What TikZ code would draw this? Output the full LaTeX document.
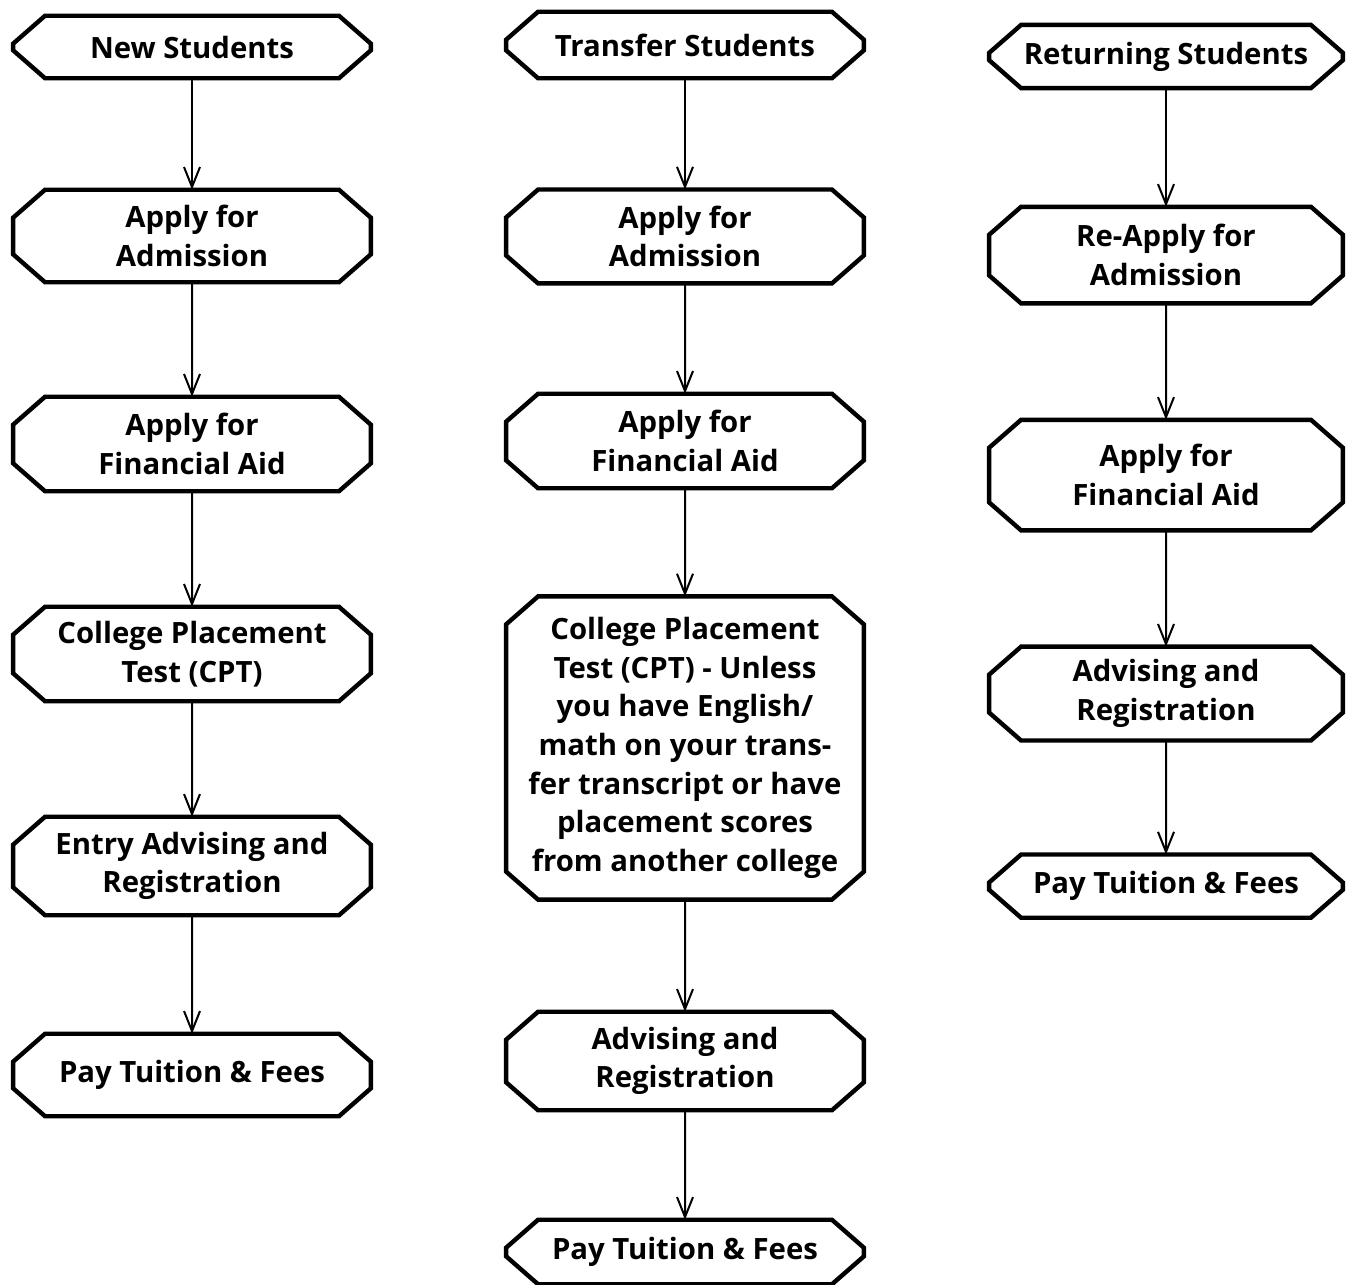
\documentclass[tikz,border=0pt]{standalone}
\usepackage{fontspec}
\setmainfont{Open Sans}
\usetikzlibrary{trees,arrows.meta,calc}

\begin{document}
\begin{tikzpicture}[grow=down,
  every node/.style = {shape=rectangle, inner sep=0pt, minimum width=268pt, align=center,
    font=\bfseries\fontsize{22}{29}\selectfont},
  edge from parent/.style = {draw, line width=1.5pt, -{Straight Barb[length=15pt,width=12pt]}},
  edge from parent path = {(\tikzparentnode.south) -- (\tikzchildnode.north)},
  boxline/.style = {line width=3.3pt}]
  \useasboundingbox (0,0) rectangle (1014.75pt,-963.75pt);
  % new students
  \node (new) at (144pt,-35.25pt) [minimum height=46.5pt] {New Students}
    child[level distance=141.75pt] {node (nadm) [minimum height=69pt] {Apply for\\Admission}
      child[level distance=156pt] {node (nfin) [minimum height=70.5pt] {Apply for\\Financial Aid}
        child[level distance=157.5pt] {node (ncpt) [minimum height=70.5pt] {College Placement\\Test (CPT)}
          child[level distance=159pt] {node (nadv) [minimum height=73.5pt] {Entry Advising and\\Registration}
            child[level distance=156.75pt] {node (npay) [minimum height=61.5pt] {Pay Tuition \& Fees}}}}}};
  % transfer students
  \node (trans) at (513.75pt,-33.75pt) [minimum height=49.5pt] {Transfer Students}
    child[level distance=143.6pt] {node (tadm) [minimum height=70pt] {Apply for\\Admission}
      child[level distance=153.4pt] {node (tfin) [minimum height=70.5pt] {Apply for\\Financial Aid}
        child[level distance=230.25pt] {node (tcpt) [minimum height=227pt] {College Placement\\Test (CPT) - Unless\\you have English/\\math on your trans-\\fer transcript or have\\placement scores\\from another college}
          child[level distance=234.75pt] {node (tadv) [minimum height=73.5pt] {Advising and\\Registration}
            child[level distance=143.25pt] {node (tpay) [minimum height=48pt] {Pay Tuition \& Fees}}}}}};
  % returning students
  \begin{scope}[every node/.append style={minimum width=265pt}]
  \node (ret) at (874.5pt,-42.4pt) [minimum height=47pt] {Returning Students}
    child[level distance=148.9pt] {node (radm) [minimum height=72pt] {Re-Apply for\\Admission}
      child[level distance=165pt] {node (rfin) [minimum height=82.5pt] {Apply for\\Financial Aid}
        child[level distance=163.9pt] {node (radv) [minimum height=70pt] {Advising and\\Registration}
          child[level distance=144.4pt] {node (rpay) [minimum height=47pt] {Pay Tuition \& Fees}}}}};
  \end{scope}
  % octagon outlines
  \foreach \b in {new,nadm,nfin,ncpt,nadv,npay,trans,tadm,tfin,tcpt,tadv,tpay,ret,radm,rfin,radv,rpay}
    \draw[boxline] let \p1=(\b.north west), \p2=(\b.south east), \n1={min(21pt,(\y1-\y2)/2)} in
      (\x1+24pt,\y1) -- (\x2-24pt,\y1) -- (\x2,\y1-\n1) -- (\x2,\y2+\n1) -- (\x2-24pt,\y2)
      -- (\x1+24pt,\y2) -- (\x1,\y2+\n1) -- (\x1,\y1-\n1) -- cycle;
\end{tikzpicture}
\end{document}
